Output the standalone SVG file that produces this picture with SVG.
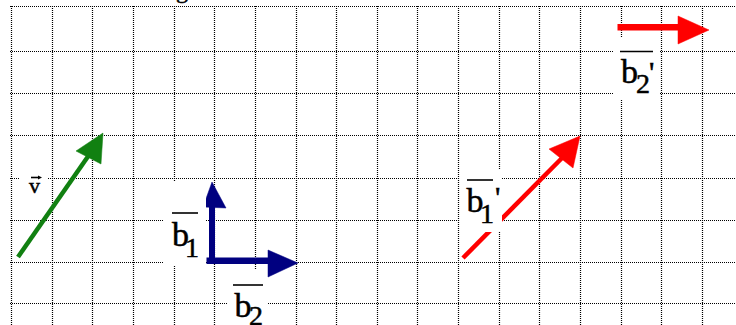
<svg xmlns="http://www.w3.org/2000/svg" width="736" height="325" viewBox="0 0 736 325">
<defs>
<style>
.g{stroke:#000;stroke-width:1.2;stroke-dasharray:1 1;fill:none}
.box{fill:#fff;stroke:none}
.t{font-family:"Liberation Serif","Times New Roman",serif;fill:#000;stroke:#000;stroke-width:0.5}
.ol{stroke:#000;stroke-width:1.6}
.grn{fill:#118011;stroke:#118011}
.blu{fill:#000080;stroke:#000080}
.red{fill:#ff0000;stroke:#ff0000}
</style>
</defs>
<rect width="736" height="325" fill="#fff"/>
<g id="grid" class="g">
<path d="M11.5 6V325M52.5 6V325M92.5 6V325M133.5 6V325M174.5 6V325M214.5 6V325M255.5 6V325M296.5 6V325M336.5 6V325M377.5 6V325M417.5 6V325M458.5 6V325M499.5 6V325M539.5 6V325M580.5 6V325M621.5 6V325M661.5 6V325M702.5 6V325"/>
<path d="M10 6.5H736M10 51.5H736M10 93.5H736M10 135.5H736M10 178.5H736M10 220.5H736M10 262.5H736M10 303.5H736"/>
</g>
<text class="t" x="176" y="-2" font-size="24">g</text>
<g id="connectors">
<g id="arrow-v">
<line class="grn" x1="18" y1="257" x2="89" y2="155" stroke-width="4.5"/>
<polygon class="grn" stroke-width="0.5" points="103,133 76,151 101,164"/>
</g>
<g id="arrow-b1">
<rect class="blu" stroke="none" x="209.5" y="204" width="5" height="56"/>
<polygon class="blu" stroke-width="0.5" points="212,182 203,207 226,208"/>
</g>
<g id="arrow-b2">
<rect class="blu" stroke="none" x="207" y="258" width="63" height="5.5"/>
<polygon class="blu" stroke-width="0.5" points="298,263 268,250 268,277"/>
</g>
<g id="arrow-b1p">
<line class="red" x1="463" y1="258" x2="562" y2="158" stroke-width="4.5"/>
<polygon class="red" stroke-width="0.5" points="580,136 549,149 573,168"/>
</g>
<g id="arrow-b2p">
<rect class="red" stroke="none" x="618" y="24.5" width="62" height="5.5"/>
<polygon class="red" stroke-width="0.5" points="709,30 678,16 678,44"/>
</g>
</g>
<g id="label-v">
<rect class="box" x="19" y="166" width="29" height="34"/>
<text class="t" x="29" y="193" font-size="22" stroke-width="0.3">v</text>
<line class="ol" x1="31" y1="177.5" x2="39" y2="177.5" stroke-width="1.2"/>
<polygon points="42,177.5 38,175.5 38,179.5" fill="#000"/>
</g>
<g id="label-b1">
<rect class="box" x="163" y="181" width="43" height="85"/>
<line class="ol" x1="172" y1="213" x2="198" y2="213"/>
<text class="t" x="172" y="246" font-size="34">b</text>
<text class="t" x="185" y="257" font-size="28">1</text>
</g>
<g id="label-b2">
<rect class="box" x="228" y="270" width="39" height="55"/>
<line class="ol" x1="233" y1="285" x2="263" y2="285"/>
<text class="t" x="234.5" y="317" font-size="34">b</text>
<text class="t" x="249" y="325" font-size="28">2</text>
</g>
<g id="label-b1p">
<rect class="box" x="460" y="170" width="42" height="62"/>
<line class="ol" x1="467" y1="180" x2="493" y2="180"/>
<text class="t" x="466.5" y="212" font-size="34">b</text>
<text class="t" x="480" y="223" font-size="28">1</text>
<text class="t" x="495" y="207" font-size="30">'</text>
</g>
<g id="label-b2p">
<rect class="box" x="614" y="37" width="46" height="63"/>
<line class="ol" x1="620" y1="51.5" x2="653" y2="51.5"/>
<text class="t" x="621" y="83" font-size="34">b</text>
<text class="t" x="636" y="93" font-size="28">2</text>
<text class="t" x="649" y="82" font-size="30">'</text>
</g>
</svg>
